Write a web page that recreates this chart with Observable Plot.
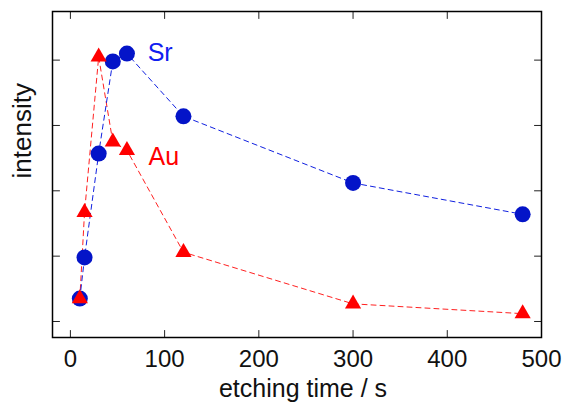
<!DOCTYPE html>
<html>
<head>
<meta charset="utf-8">
<script src="https://cdn.jsdelivr.net/npm/d3@7"></script>
<script src="https://cdn.jsdelivr.net/npm/@observablehq/plot@0.6"></script>
<style>
  html, body { margin: 0; padding: 0; background: #fff; }
</style>
</head>
<body>
<div id="chart"></div>
<script>
const times = [10, 15, 30, 45, 60, 120, 300, 480];
const srValues = [0.35, 0.98, 2.57, 3.98, 4.10, 3.14, 2.12, 1.64];
const auValues = [0.35, 1.67, 4.05, 2.75, 2.62, 1.06, 0.27, 0.12];
const xTicks = [0, 100, 200, 300, 400, 500];
const yTicks = [0, 1, 2, 3, 4];
const seriesLabels = [
  {name: "Sr", x: 82, y: 3.99, color: "#1020f0"},
  {name: "Au", x: 83, y: 2.39, color: "#ff0000"}
];
const xLabel = "etching time / s";
const yLabel = "intensity";

const sr = times.map((t, i) => ({t, v: srValues[i]}));
const au = times.map((t, i) => ({t, v: auValues[i]}));

const tickShape = {draw(context, l) { context.moveTo(0, 0); context.lineTo(0, -l); }};
const tickOpts = {length: 7, anchor: "start", shape: tickShape, stroke: "#222", strokeWidth: 1};

const chart = Plot.plot({
  width: 566,
  height: 403,
  marginLeft: 52,
  marginRight: 25,
  marginTop: 11,
  marginBottom: 66,
  style: {fontFamily: "'Liberation Sans', Arial, Helvetica, sans-serif", background: "#fff"},
  x: {domain: [-19, 500]},
  y: {domain: [-0.245, 4.744], axis: null},
  marks: [
    Plot.line(au, {x: "t", y: "v", stroke: "#ff2020", strokeWidth: 1, strokeDasharray: "5,4"}),
    Plot.line(sr, {x: "t", y: "v", stroke: "#1020e0", strokeWidth: 1, strokeDasharray: "5,4"}),
    Plot.dot(sr, {x: "t", y: "v", r: 8, fill: "#0414c8", stroke: "none", symbol: "circle"}),
    Plot.dot(au, {x: "t", y: "v", r: 6, fill: "#ff0000", stroke: "none", symbol: "triangle"}),
    Plot.text(seriesLabels, {x: "x", y: "y", text: "name", fill: "color", fontSize: 25, textAnchor: "start", lineAnchor: "bottom"}),
    Plot.vector(xTicks, {x: d => d, frameAnchor: "bottom", rotate: 0, ...tickOpts}),
    Plot.vector(xTicks, {x: d => d, frameAnchor: "top", rotate: 180, ...tickOpts}),
    Plot.vector(yTicks, {y: d => d, frameAnchor: "left", rotate: 90, ...tickOpts}),
    Plot.vector(yTicks, {y: d => d, frameAnchor: "right", rotate: -90, ...tickOpts}),
    Plot.frame({stroke: "black", strokeWidth: 1.5}),
    Plot.axisX(xTicks, {tickSize: 0, tickPadding: 12, fontSize: 24, label: null, fill: "#111"}),
    Plot.text([xLabel], {frameAnchor: "bottom", dx: 6, dy: 59, lineAnchor: "bottom", fontSize: 25, fill: "#111"}),
    Plot.text([yLabel], {frameAnchor: "left", dx: -21.5, dy: 4, rotate: -90, lineAnchor: "bottom", fontSize: 26, fill: "#111"})
  ]
});
document.getElementById("chart").appendChild(chart);
</script>
</body>
</html>
